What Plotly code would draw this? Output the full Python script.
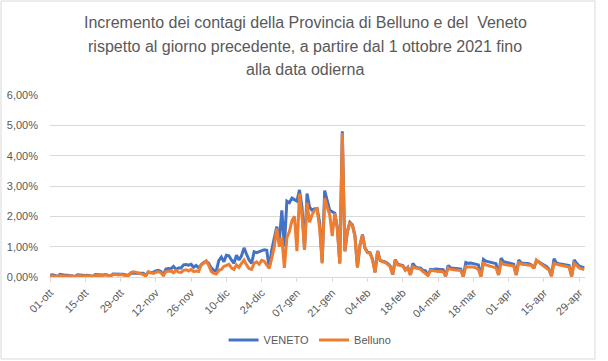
import plotly.graph_objects as go
import pandas as pd

start_date = "2021-10-01"

title_lines = ["Incremento dei contagi della Provincia di Belluno e del  Veneto",
               "rispetto al giorno precedente, a partire dal 1 ottobre 2021 fino",
               "alla data odierna"]

tick_labels = ["01-ott", "15-ott", "29-ott", "12-nov", "26-nov", "10-dic", "24-dic",
               "07-gen", "21-gen", "04-feb", "18-feb", "04-mar", "18-mar", "01-apr",
               "15-apr", "29-apr"]

# daily increment (%) - VENETO
veneto = [
    0.06, 0.07, 0.05, 0.02, 0.09, 0.07, 0.06,
    0.06, 0.05, 0.05, 0.02, 0.07, 0.06, 0.06,
    0.05, 0.06, 0.05, 0.02, 0.08, 0.07, 0.07,
    0.07, 0.08, 0.06, 0.03, 0.10, 0.09, 0.10,
    0.09, 0.09, 0.07, 0.05, 0.12, 0.12, 0.11,
    0.12, 0.13, 0.12, 0.06, 0.16, 0.15, 0.16,
    0.20, 0.22, 0.18, 0.07, 0.26, 0.28, 0.27,
    0.35, 0.25, 0.30, 0.30, 0.40, 0.41, 0.39,
    0.42, 0.32, 0.38, 0.30, 0.40, 0.48, 0.52,
    0.45, 0.30, 0.22, 0.20, 0.55, 0.66, 0.50,
    0.72, 0.70, 0.56, 0.45, 0.72, 0.56, 0.70,
    0.96, 0.75, 0.56, 0.45, 0.83, 0.80, 0.84,
    0.86, 0.90, 0.88, 0.30, 0.90, 1.30, 1.66,
    1.20, 2.20, 1.00, 2.50, 2.45, 2.60, 2.55,
    2.50, 2.87, 2.30, 0.90, 2.75, 2.30, 2.20,
    2.25, 2.25, 1.80, 0.50, 2.85, 2.50, 2.20,
    2.15, 2.10, 1.65, 0.45, 4.80, 0.85, 1.50,
    1.80, 1.72, 1.38, 0.32, 1.05, 1.40, 0.95,
    0.82, 0.80, 0.58, 0.16, 0.86, 0.55, 0.52,
    0.50, 0.45, 0.36, 0.08, 0.57, 0.42, 0.40,
    0.38, 0.24, 0.32, 0.07, 0.45, 0.33, 0.30,
    0.30, 0.22, 0.20, 0.05, 0.25, 0.24, 0.26,
    0.25, 0.26, 0.24, 0.03, 0.38, 0.30, 0.28,
    0.28, 0.27, 0.26, 0.02, 0.48, 0.45, 0.46,
    0.44, 0.43, 0.40, 0.02, 0.58, 0.52, 0.50,
    0.50, 0.46, 0.44, 0.07, 0.62, 0.50, 0.48,
    0.47, 0.46, 0.42, 0.07, 0.56, 0.46, 0.45,
    0.44, 0.44, 0.40, 0.29, 0.52, 0.50, 0.44,
    0.40, 0.35, 0.26, 0.03, 0.60, 0.46, 0.44,
    0.43, 0.42, 0.40, 0.38, 0.02, 0.56, 0.45,
    0.36, 0.33, 0.30,
]

# daily increment (%) - Belluno
belluno = [
    0.03, 0.04, 0.03, 0.01, 0.05, 0.04, 0.03,
    0.04, 0.03, 0.03, 0.01, 0.04, 0.05, 0.03,
    0.03, 0.04, 0.04, 0.01, 0.05, 0.06, 0.05,
    0.05, 0.07, 0.06, 0.02, 0.08, 0.09, 0.07,
    0.08, 0.06, 0.04, 0.03, 0.14, 0.17, 0.16,
    0.13, 0.12, 0.08, 0.03, 0.17, 0.14, 0.12,
    0.15, 0.18, 0.14, 0.05, 0.18, 0.20, 0.20,
    0.14, 0.22, 0.16, 0.15, 0.22, 0.24, 0.20,
    0.25, 0.18, 0.20, 0.18, 0.40, 0.45, 0.53,
    0.38, 0.18, 0.12, 0.10, 0.22, 0.25, 0.35,
    0.38, 0.42, 0.30, 0.25, 0.40, 0.32, 0.45,
    0.56, 0.40, 0.28, 0.25, 0.45, 0.50, 0.42,
    0.55, 0.52, 0.40, 0.28, 0.62, 1.00, 1.60,
    1.00, 1.30, 0.30, 1.30, 1.50, 1.85, 2.00,
    0.85, 2.75, 2.00, 0.90, 2.45, 1.80, 2.05,
    2.20, 2.25, 1.60, 0.45, 2.60, 2.30, 2.05,
    1.35, 2.10, 1.60, 0.45, 4.75, 0.85, 1.50,
    1.80, 1.70, 1.35, 0.32, 1.05, 1.38, 0.95,
    0.80, 0.78, 0.56, 0.15, 0.85, 0.55, 0.50,
    0.48, 0.42, 0.34, 0.08, 0.56, 0.40, 0.38,
    0.36, 0.22, 0.30, 0.07, 0.34, 0.30, 0.28,
    0.26, 0.18, 0.12, 0.05, 0.22, 0.20, 0.19,
    0.18, 0.19, 0.17, 0.03, 0.30, 0.25, 0.23,
    0.23, 0.22, 0.21, 0.02, 0.34, 0.33, 0.34,
    0.33, 0.30, 0.25, 0.02, 0.45, 0.40, 0.37,
    0.36, 0.33, 0.30, 0.07, 0.48, 0.42, 0.40,
    0.40, 0.38, 0.36, 0.07, 0.47, 0.43, 0.42,
    0.42, 0.41, 0.38, 0.29, 0.56, 0.48, 0.42,
    0.38, 0.30, 0.23, 0.03, 0.45, 0.42, 0.40,
    0.39, 0.38, 0.36, 0.33, 0.02, 0.45, 0.38,
    0.30, 0.27, 0.25,
]

assert len(veneto) == len(belluno)
dates = pd.date_range(start_date, periods=len(veneto), freq="D")
tick_vals = pd.date_range(start_date, periods=len(tick_labels), freq="14D")

gray = "#595959"
grid = "#D9D9D9"
W, H = 608, 361
ML, MR, MT, MB = 50, 23, 95, 84

fig = go.Figure()
fig.add_trace(go.Scatter(x=dates, y=veneto, mode="lines", name="VENETO",
                         line=dict(color="#4472C4", width=3)))
fig.add_trace(go.Scatter(x=dates, y=belluno, mode="lines", name="Belluno",
                         line=dict(color="#ED7D31", width=3)))

x_end = pd.Timestamp(start_date) + pd.Timedelta(days=212.3)

fig.update_layout(
    width=W, height=H,
    margin=dict(l=ML, r=MR, t=MT, b=MB, autoexpand=False),
    paper_bgcolor="white", plot_bgcolor="white",
    separators=",.",
    font=dict(family="Liberation Sans", color=gray, size=11),
    showlegend=True,
    legend=dict(orientation="h", x=0.51, xanchor="center", xref="container",
                y=1 - 340 / H, yanchor="middle", yref="container",
                font=dict(size=11, color=gray), bgcolor="rgba(0,0,0,0)",
                itemwidth=30),
    xaxis=dict(
        range=[pd.Timestamp(start_date), x_end], automargin=False,
        tickmode="array", tickvals=tick_vals, ticktext=tick_labels,
        tickangle=-45, showgrid=False, showline=True, linecolor=grid,
        ticks="outside", ticklen=4, tickcolor=grid,
        tickfont=dict(size=11, color=gray), zeroline=False,
    ),
    yaxis=dict(
        range=[0, 6], dtick=1, tickformat=".2f", ticksuffix="%", automargin=False,
        showgrid=True, gridcolor=grid, gridwidth=1, zeroline=False,
        showline=False, ticks="", tickfont=dict(size=11, color=gray),
        ticklabelstandoff=11,
    ),
)

# title lines
for line, yc in zip(title_lines, [22, 46, 69]):
    fig.add_annotation(text=line, xref="paper", yref="paper",
                       x=(305 - ML) / (W - ML - MR), y=(H - MB - yc) / (H - MT - MB),
                       xanchor="center", yanchor="middle", showarrow=False,
                       font=dict(family="Liberation Sans", size=16, color=gray))

fig.add_shape(type="rect", xref="paper", yref="paper",
              x0=(1 - ML) / (W - ML - MR), x1=(595 - ML) / (W - ML - MR),
              y0=(H - MB - 359) / (H - MT - MB), y1=(H - MB - 1) / (H - MT - MB),
              line=dict(color=grid, width=1), fillcolor="rgba(0,0,0,0)", layer="below")

fig.write_html("out.html", config={"displayModeBar": False},
               post_script="document.body.style.margin='0';")
